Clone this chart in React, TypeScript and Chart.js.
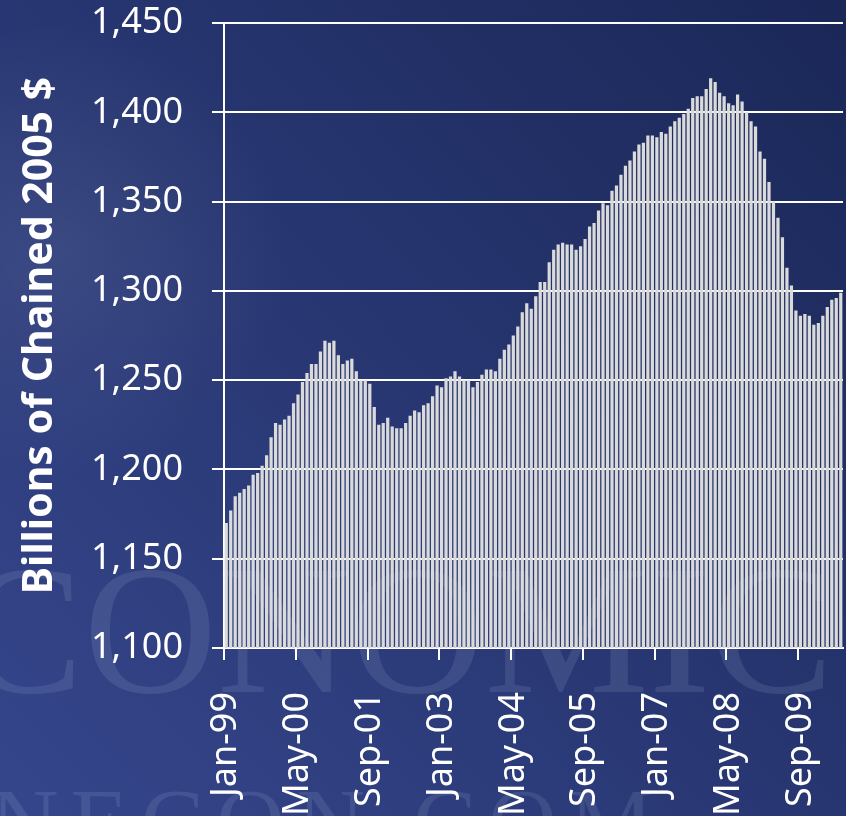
import React, { useEffect, useRef } from 'react';
import { Chart, registerables } from 'chart.js';

Chart.register(...registerables);

// Monthly series, Jan-1999 .. Jun-2010 (billions of chained 2005 $)
const startYear = 1999;
const monthNames = ['Jan', 'Feb', 'Mar', 'Apr', 'May', 'Jun', 'Jul', 'Aug', 'Sep', 'Oct', 'Nov', 'Dec'];

const values1999to2002 = [
  1170, 1177, 1185, 1187, 1189, 1191, 1197, 1198, 1202, 1208, 1218, 1226,
  1225, 1228, 1230, 1237, 1242, 1249, 1254, 1259, 1259, 1266, 1272, 1271,
  1272, 1264, 1259, 1261, 1262, 1255, 1250, 1250, 1248, 1235, 1225, 1226,
  1229, 1224, 1223, 1223, 1226, 1230, 1233, 1232, 1236, 1237, 1241, 1247,
];
const values2003to2006 = [
  1246, 1251, 1252, 1255, 1252, 1250, 1250, 1246, 1249, 1253, 1256, 1256,
  1255, 1262, 1267, 1270, 1275, 1280, 1288, 1293, 1290, 1297, 1305, 1305,
  1316, 1323, 1326, 1327, 1326, 1326, 1323, 1325, 1329, 1336, 1338, 1345,
  1349, 1348, 1356, 1359, 1365, 1370, 1373, 1378, 1382, 1383, 1387, 1387,
];
const values2007to2010 = [
  1386, 1389, 1388, 1392, 1395, 1397, 1399, 1402, 1408, 1409, 1409, 1413,
  1419, 1417, 1411, 1409, 1405, 1404, 1410, 1406, 1400, 1395, 1392, 1378,
  1374, 1361, 1350, 1341, 1330, 1313, 1303, 1289, 1286, 1287, 1286, 1281,
  1282, 1286, 1291, 1295, 1296, 1299,
];
const values = [...values1999to2002, ...values2003to2006, ...values2007to2010];

const categories = values.map((_, i) => {
  const y = startYear + Math.floor(i / 12);
  return `${monthNames[i % 12]}-${String(y % 100).padStart(2, '0')}`;
});

const labelEvery = 16;
const yMin = 1100;
const yMax = 1450;
const yStep = 50;
const yTitle = 'Billions of Chained 2005 $';

const W = 846;
const H = 816;

const backgroundPlugin = {
  id: 'bgPlugin',
  beforeDraw(chart: any) {
    const ctx = chart.ctx as CanvasRenderingContext2D;
    ctx.save();
    const g = ctx.createLinearGradient(W, 0, 0, H);
    g.addColorStop(0, '#1a2757');
    g.addColorStop(0.45, '#26356f');
    g.addColorStop(1, '#36468c');
    ctx.fillStyle = g;
    ctx.fillRect(0, 0, W, H);
    // soft lighter region, top-left
    const r = ctx.createRadialGradient(60, 250, 10, 60, 250, 230);
    r.addColorStop(0, 'rgba(255,255,255,0.07)');
    r.addColorStop(1, 'rgba(255,255,255,0)');
    ctx.fillStyle = r;
    ctx.fillRect(0, 0, 350, 520);
    // watermark
    ctx.fillStyle = 'rgba(200,210,240,0.12)';
    ctx.font = '185px "Liberation Serif", serif';
    ctx.textBaseline = 'alphabetic';
    ctx.textAlign = 'left';
    ctx.fillText('CONOMICS', -40, 692);
    ctx.font = '95px "Liberation Serif", serif';
    (ctx as any).letterSpacing = '12px';
    ctx.fillText('NECON.COM', -10, 855);
    ctx.restore();
  },
};

export default function App() {
  const ref = useRef<HTMLCanvasElement | null>(null);

  useEffect(() => {
    if (!ref.current) return;
    const font = { family: '"Noto Sans", "Open Sans", sans-serif', size: 36 };
    const chart = new Chart(ref.current, {
      type: 'bar',
      data: {
        labels: categories,
        datasets: [
          {
            data: values,
            backgroundColor: '#dadada',
            borderWidth: 0,
            barPercentage: 0.72,
            categoryPercentage: 1.0,
          },
        ],
      },
      plugins: [backgroundPlugin],
      options: {
        animation: false,
        responsive: false,
        maintainAspectRatio: false,
        devicePixelRatio: 1,
        layout: { padding: { top: 23, right: 3, left: 0, bottom: 0 } },
        plugins: {
          legend: { display: false },
          tooltip: { enabled: false },
        },
        scales: {
          x: {
            type: 'category',
            offset: true,
            grid: {
              display: true,
              offset: true,
              drawOnChartArea: false,
              drawTicks: true,
              tickLength: 12,
              lineWidth: 2,
              color: (c: any) => (c.index % labelEvery === 0 ? '#ffffff' : 'rgba(0,0,0,0)'),
            },
            border: { display: true, color: '#ffffff', width: 2 },
            ticks: {
              autoSkip: false,
              maxRotation: 90,
              minRotation: 90,
              padding: 32,
              color: '#ffffff',
              font,
              callback: (_v: any, i: number) => (i % labelEvery === 0 ? categories[i] : ''),
            },
            afterFit: (s: any) => {
              s.height = H - 648;
              s.paddingLeft = 0;
              s.paddingRight = 0;
              s.paddingTop = 0;
              s.paddingBottom = 0;
            },
          },
          y: {
            min: yMin,
            max: yMax,
            grid: {
              color: '#ffffff',
              lineWidth: 2,
              drawTicks: true,
              tickLength: 12,
            },
            border: { display: true, color: '#ffffff', width: 2 },
            ticks: {
              stepSize: yStep,
              padding: 29,
              color: '#ffffff',
              font,
              callback: (v: any) => Number(v).toLocaleString('en-US'),
            },
            title: {
              display: true,
              text: yTitle,
              color: '#ffffff',
              font: { family: '"Noto Sans", "Open Sans", sans-serif', size: 41, weight: 'bold' },
              padding: { top: 16, bottom: 0 },
            },
            afterFit: (s: any) => {
              s.width = 224;
              s.paddingLeft = 0;
              s.paddingRight = 0;
              s.paddingTop = 0;
              s.paddingBottom = 0;
            },
          },
        },
      },
    } as any);
    return () => chart.destroy();
  }, []);

  return (
    <div style={{ position: 'fixed', left: 0, top: 0, width: W, height: H, overflow: 'hidden' }}>
      <canvas ref={ref} width={W} height={H} style={{ display: 'block', width: W, height: H }} />
    </div>
  );
}
